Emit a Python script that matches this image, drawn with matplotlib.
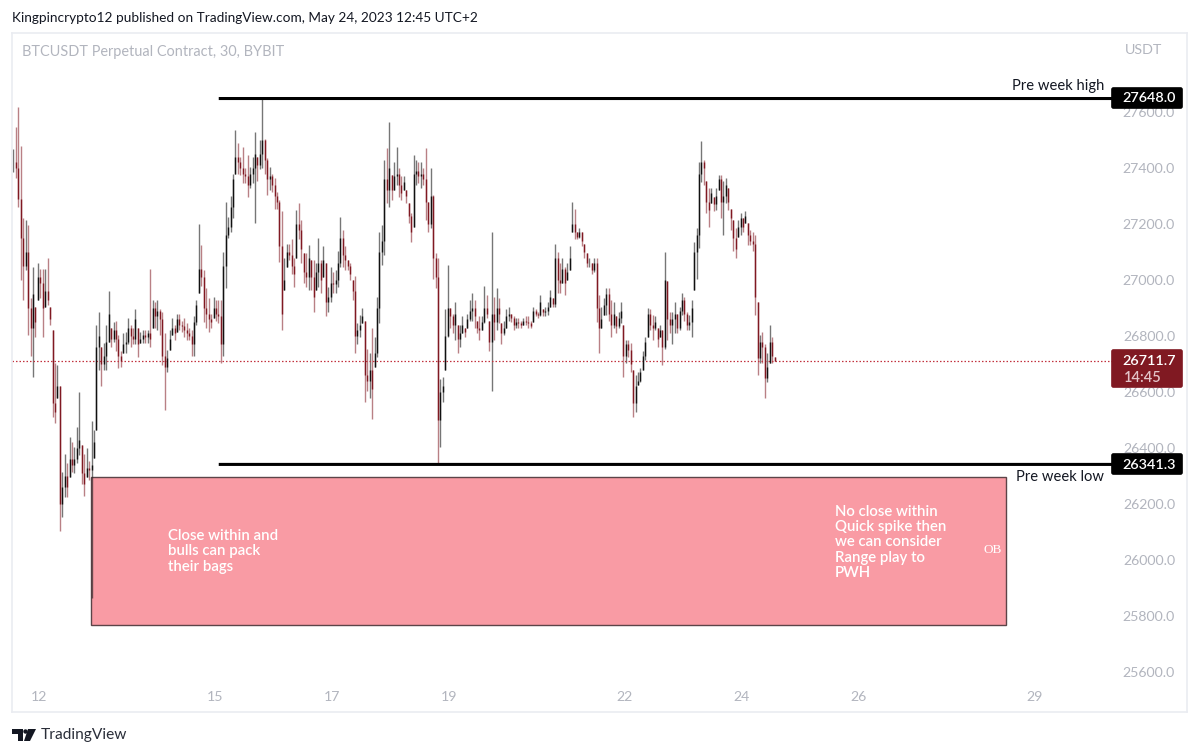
import numpy as np
import matplotlib
matplotlib.use('Agg')
import matplotlib.pyplot as plt
from matplotlib.patches import Rectangle, Polygon, FancyBboxPatch

plt.rcParams['font.family'] = ['Lato', 'DejaVu Sans']

# hourly candles, first one on May 11 late
highs = [27468, 27545, 27618, 27480, 27220, 27215, 27195, 26935, 27045, 26905, 27060, 27040, 27040, 27040, 27080,
         26905, 26820, 26705, 26695, 26620, 26315, 26380, 26345, 26440, 26420, 26405, 26475, 26600, 26410, 26380,
         26400, 26355, 26495, 26465, 26840,
         26885, 26760, 26775, 26840, 26960, 26830, 26850, 26855, 26805, 26745, 26810, 26815, 26865, 26840, 26830,
         26895, 26830, 26815, 26820, 26820, 26820, 27040, 26930, 26920, 26930, 26895, 26885, 26810, 26750, 26820,
         26865, 26840, 26880, 26880, 26855, 26865, 26845, 26830, 26820, 26870, 26930, 27200, 27125, 27035, 26970,
         26935, 26880, 26940, 26930, 26930, 26930, 27100, 27280, 27225, 27300, 27380, 27535, 27490, 27440, 27475,
         27400, 27445, 27405, 27440, 27530, 27440, 27500, 27650,
         27505, 27435, 27405, 27380, 27365, 27315, 27285, 27245, 27080, 27130, 27130, 27145, 27080, 27250, 27275,
         27215, 27095, 27095, 27125, 27070, 27070, 27060, 27150, 27070, 27120, 27060, 26975, 27045, 27030, 27035,
         27105, 27225, 27180, 27120, 27070, 27060, 27000, 27015, 26845, 26875, 26900, 26855, 26755, 26740, 26830,
         26795, 26940, 27170, 27195, 27430, 27470, 27565, 27375, 27420, 27475, 27400, 27370, 27370, 27320, 27275,
         27240, 27445, 27430, 27420, 27420, 27400, 27470, 27280, 27400, 27305, 27095, 27080,
         26645, 26655, 26895, 27055, 26900, 26880, 26920, 26840, 26840, 26870, 26830, 26880, 26930, 26955, 26930,
         26855, 26870, 26870, 26980, 26945, 26855, 27170,
         26940, 26970, 26935, 26845, 26855, 26895, 26905, 26880, 26870, 26865, 26865, 26855, 26865, 26870, 26870,
         26855, 26905, 26895, 26885, 26945, 26895, 26905, 26920, 26965, 26935, 27130,
         27100, 27060, 27080, 27045, 27060, 27120, 27280, 27255, 27170, 27185, 27170, 27130, 27095, 27080, 27060,
         27080, 27080, 26945, 26905, 26935, 26970, 26970, 26930, 26920, 26870, 26885, 26920, 26840, 26785, 26785,
         26775, 26680, 26660, 26670, 26685, 26745, 26795, 26900, 26895, 26875, 26870, 26830, 26840, 26820, 27100,
         26995, 26885, 26885, 26920, 26880, 26905, 26955, 26940, 26885, 26875, 26930, 27135, 27185, 27420, 27495,
         27430, 27355, 27330, 27330, 27295, 27330, 27375, 27375, 27355, 27365, 27330, 27255, 27215, 27185, 27215,
         27240, 27220, 27245, 27205, 27180, 27170, 27160, 26920, 26805, 26815, 26770, 26740, 26840, 26795, 26725]
lows = [27385, 27365, 27260, 27000, 26930, 27035, 26805, 26730, 26655, 26795, 26930, 26935, 26795, 26905, 26910,
        26840, 26510, 26490, 26580, 26105, 26155, 26225, 26225, 26295, 26315, 26310, 26345, 26375, 26270, 26230,
        26295, 26285, 25865, 26365, 26465,
        26680, 26620, 26680, 26680, 26780, 26760, 26780, 26745, 26685, 26690, 26740, 26740, 26770, 26760, 26770,
        26770, 26725, 26775, 26775, 26775, 26775, 26760, 26830, 26830, 26820, 26805, 26695, 26535, 26670, 26750,
        26805, 26785, 26815, 26820, 26815, 26795, 26785, 26785, 26730, 26730, 26840, 26955, 26980, 26850, 26830,
        26815, 26830, 26865, 26855, 26845, 26705, 26730, 26970, 27150, 27170, 27220, 27380, 27380, 27375, 27345,
        27345, 27295, 27330, 27345, 27205, 27355, 27395, 27400,
        27380, 27305, 27320, 27315, 27255, 27255, 27065, 26820, 26965, 27045, 27070, 27020, 26975, 27080, 27145,
        27060, 26990, 26975, 26965, 26965, 26885, 26965, 26975, 26955, 27010, 26870, 26885, 26920, 26955, 26955,
        26975, 27045, 27045, 27035, 27035, 27000, 26930, 26740, 26770, 26795, 26845, 26565, 26605, 26580, 26505,
        26690, 26725, 26845, 27055, 27090, 27275, 27260, 27285, 27320, 27340, 27295, 27285, 27320, 27275, 27205,
        27135, 27190, 27340, 27345, 27330, 27340, 27215, 27170, 27185, 27005, 26970, 26345,
        26405, 26565, 26680, 26795, 26830, 26810, 26785, 26740, 26760, 26810, 26795, 26830, 26855, 26855, 26830,
        26810, 26785, 26820, 26845, 26865, 26745, 26605,
        26785, 26820, 26845, 26770, 26805, 26830, 26855, 26850, 26820, 26830, 26830, 26830, 26840, 26840, 26830,
        26830, 26850, 26870, 26865, 26870, 26870, 26870, 26875, 26905, 26905, 26905,
        26955, 26955, 26990, 26945, 27000, 27035, 27170, 27145, 27145, 27150, 27120, 27080, 27045, 27045, 27020,
        27030, 26850, 26740, 26830, 26875, 26875, 26855, 26795, 26830, 26810, 26830, 26845, 26655, 26705, 26725,
        26670, 26510, 26530, 26625, 26635, 26680, 26715, 26795, 26820, 26785, 26820, 26760, 26795, 26695, 26755,
        26785, 26810, 26770, 26810, 26810, 26820, 26875, 26855, 26820, 26820, 26795, 26965, 27005, 27115, 27350,
        27340, 27240, 27190, 27275, 27245, 27250, 27320, 27220, 27160, 27275, 27250, 27180, 27105, 27080, 27155,
        27160, 27170, 27205, 27125, 27125, 27105, 26875, 26660, 26705, 26705, 26580, 26635, 26705, 26705, 26710]
closes = [27420, 27400, 27290, 27150, 27050, 27100, 26900, 26830, 26950, 26850, 27010, 26990, 26900, 26960, 26930,
          26860, 26560, 26530, 26620, 26200, 26260, 26300, 26260, 26360, 26340, 26360, 26400, 26430, 26310, 26270,
          26330, 26320, 26340, 26420, 26760,
          26800, 26700, 26730, 26780, 26880, 26790, 26820, 26790, 26730, 26710, 26770, 26780, 26830, 26800, 26790,
          26860, 26770, 26790, 26805, 26795, 26810, 26790, 26900, 26870, 26890, 26860, 26730, 26690, 26720, 26790,
          26830, 26810, 26860, 26840, 26835, 26820, 26810, 26800, 26770, 26850, 26910, 27040, 27010, 26900, 26880,
          26860, 26850, 26900, 26880, 26870, 26770, 27050, 27160, 27190, 27260, 27360, 27440, 27420, 27400, 27380,
          27370, 27340, 27380, 27400, 27450, 27410, 27450, 27500,
          27430, 27360, 27370, 27340, 27300, 27280, 27120, 26880, 27000, 27100, 27090, 27050, 27020, 27200, 27180,
          27110, 27030, 27010, 27080, 27010, 26940, 27030, 27060, 27000, 27070, 26920, 26940, 26990, 26985, 27000,
          27060, 27150, 27090, 27070, 27050, 27020, 26960, 26800, 26820, 26840, 26870, 26660, 26640, 26680, 26610,
          26740, 26900, 27100, 27140, 27360, 27320, 27400, 27320, 27370, 27380, 27340, 27310, 27350, 27300, 27230,
          27170, 27380, 27390, 27370, 27380, 27360, 27280, 27200, 27300, 27080, 27010, 26500,
          26600, 26620, 26800, 26900, 26870, 26840, 26880, 26790, 26810, 26840, 26815, 26860, 26890, 26900, 26870,
          26830, 26820, 26850, 26900, 26880, 26780, 26880,
          26850, 26900, 26880, 26810, 26830, 26870, 26880, 26865, 26840, 26850, 26845, 26840, 26855, 26850, 26845,
          26835, 26890, 26880, 26875, 26920, 26885, 26890, 26905, 26940, 26915, 27080,
          27000, 26990, 27040, 26990, 27030, 27080, 27200, 27170, 27155, 27170, 27140, 27100, 27060, 27060, 27035,
          27060, 26900, 26830, 26860, 26910, 26950, 26880, 26840, 26880, 26835, 26865, 26890, 26730, 26770, 26750,
          26700, 26560, 26620, 26640, 26670, 26730, 26780, 26880, 26840, 26830, 26850, 26790, 26820, 26760, 27000,
          26860, 26840, 26860, 26880, 26830, 26890, 26930, 26880, 26840, 26850, 26900, 27100, 27160, 27380, 27420,
          27400, 27280, 27250, 27310, 27270, 27300, 27360, 27280, 27300, 27340, 27280, 27220, 27150, 27110, 27190,
          27220, 27190, 27230, 27160, 27140, 27130, 26940, 26720, 26780, 26760, 26650, 26690, 26780, 26730, 26712]

price_ticks = [25600, 25800, 26000, 26200, 26400, 26600, 26800, 27000, 27200, 27400, 27600]
day_ticks = [12, 15, 17, 19, 22, 24, 26, 29]

pre_week_high = 27648.0
pre_week_low = 26341.3
last_price = 26711.7
ob_top = 26295
ob_bottom = 25768
ob_left = 12.888
ob_right = 28.516
level_start = 15.07
level_end = 30.33

GRAY = '#b2b5be'
BORDER = '#eaecf1'
RED = '#801922'

fig = plt.figure(figsize=(12, 7.56), dpi=100)

# page overlay in pixels for the header, footer and tags
page = fig.add_axes([0, 0, 1, 1], zorder=5)
page.set_xlim(0, 1200)
page.set_ylim(756, 0)
page.axis('off')

# chart box from x=12..1187, y=33..712
ax = fig.add_axes([12 / 1200, 1 - 712 / 756, 1175 / 1200, 679 / 756])
ax.set_xlim(11.539, 31.607)
ax.set_ylim(25457.1, 27882)
for s in ax.spines.values():
    s.set_color(BORDER)
    s.set_linewidth(1.2)

ax.yaxis.tick_right()
ax.set_yticks(price_ticks)
ax.set_yticklabels(['%.1f' % p for p in price_ticks], ha='right')
ax.tick_params(axis='y', length=0, pad=-8.6, labelsize=10.2, labelcolor=GRAY, labelright=True)
ax.set_xticks(day_ticks)
ax.set_xticklabels([str(d) for d in day_ticks])
ax.tick_params(axis='x', length=0, pad=-15, labelsize=10.2, labelcolor=GRAY)

# OB box
ax.add_patch(Rectangle((ob_left, ob_bottom), ob_right - ob_left, ob_top - ob_bottom,
                       facecolor='#f99ba4', edgecolor='#5c4448', linewidth=1.0, zorder=1))

# candles
highs = np.array(highs)
lows = np.array(lows)
closes = np.array(closes)
opens = np.r_[closes[0], closes[:-1]]
days = 11.5645 + np.arange(len(closes)) / 24
up = closes >= opens
ax.vlines(days[up], lows[up], highs[up], color='#222222', linewidth=1.0, alpha=0.62, zorder=2)
ax.vlines(days[~up], lows[~up], highs[~up], color=RED, linewidth=1.0, alpha=0.55, zorder=2)
body_lo = np.maximum(np.minimum(opens, closes), lows)
body_hi = np.minimum(np.maximum(opens, closes), highs)
ax.vlines(days[up], body_lo[up], body_hi[up], color='#111111', linewidth=1.0, zorder=3)
ax.vlines(days[~up], body_lo[~up], body_hi[~up], color=RED, linewidth=1.0, zorder=3)

# last price and the two levels
ax.plot([11.54, level_end], [last_price, last_price], color='#c2323f', linewidth=0.9, dashes=(1.2, 1.6), zorder=2)
for lvl in [pre_week_high, pre_week_low]:
    ax.plot([level_start, level_end], [lvl, lvl], color='black', linewidth=2.2, solid_capstyle='butt', zorder=4,
            snap=False)


def price_tag(y0, y1, fc):
    page.add_patch(FancyBboxPatch((1112, y0 + 1), 70, y1 - y0 - 2, boxstyle='round,pad=0,rounding_size=1.5',
                                  facecolor=fc, edgecolor=fc, linewidth=1.2))


price_tag(87, 109, 'black')
page.text(1149.5, 98.5, '%.1f' % pre_week_high, color='white', fontsize=10.4, ha='center', va='center', fontweight='semibold')
price_tag(453, 475, 'black')
page.text(1149.5, 465, '%.1f' % pre_week_low, color='white', fontsize=10.4, ha='center', va='center', fontweight='semibold')
price_tag(349, 388, RED)
page.text(1149.5, 361, '%.1f' % last_price, color='white', fontsize=10.4, ha='center', va='center', fontweight='semibold')
page.text(1124, 378, '14:45', color='#e3c4c8', fontsize=10.5, ha='left', va='center', fontweight='semibold')

# annotations
page.text(1104, 86, 'Pre week high', color='#131722', fontsize=10.6, ha='right', va='center')
page.text(1104, 477, 'Pre week low', color='#131722', fontsize=10.6, ha='right', va='center')
page.text(168, 551.5, 'Close within and\nbulls can pack\ntheir bags', color='white', fontsize=10.8,
          ha='left', va='center', linespacing=1.1, fontweight='semibold')
page.text(835, 542.5, 'No close within\nQuick spike then\nwe can consider\nRange play to\nPWH', color='white',
          fontsize=10.8, ha='left', va='center', linespacing=1.1, fontweight='semibold')
page.text(993, 550, 'OB', color='white', fontsize=9.5, ha='center', va='center', family='Liberation Serif')

# header and footer
page.text(12, 18, 'Kingpincrypto12 published on TradingView.com, May 24, 2023 12:45 UTC+2', color='#131722',
          fontsize=9.8, ha='left', va='center')
page.text(22, 52, 'BTCUSDT Perpetual Contract, 30, BYBIT', color=GRAY, fontsize=10.45, ha='left', va='center')
page.text(1125, 50, 'USDT', color=GRAY, fontsize=10.3, ha='left', va='center')
page.text(41, 735, 'TradingView', color='#2a2e39', fontsize=11.2, ha='left', va='center')

# logo
page.add_patch(Polygon([(12, 729), (23, 729), (23, 741), (18, 741), (18, 734), (12, 734)], color='#131722', lw=0))
page.add_patch(Polygon([(28, 729), (36, 729), (30, 741), (24, 741)], color='#131722', lw=0))
page.add_patch(plt.Circle((25.5, 731.5), 2.2, color='#131722', lw=0))

plt.savefig('out.png', dpi=100)
